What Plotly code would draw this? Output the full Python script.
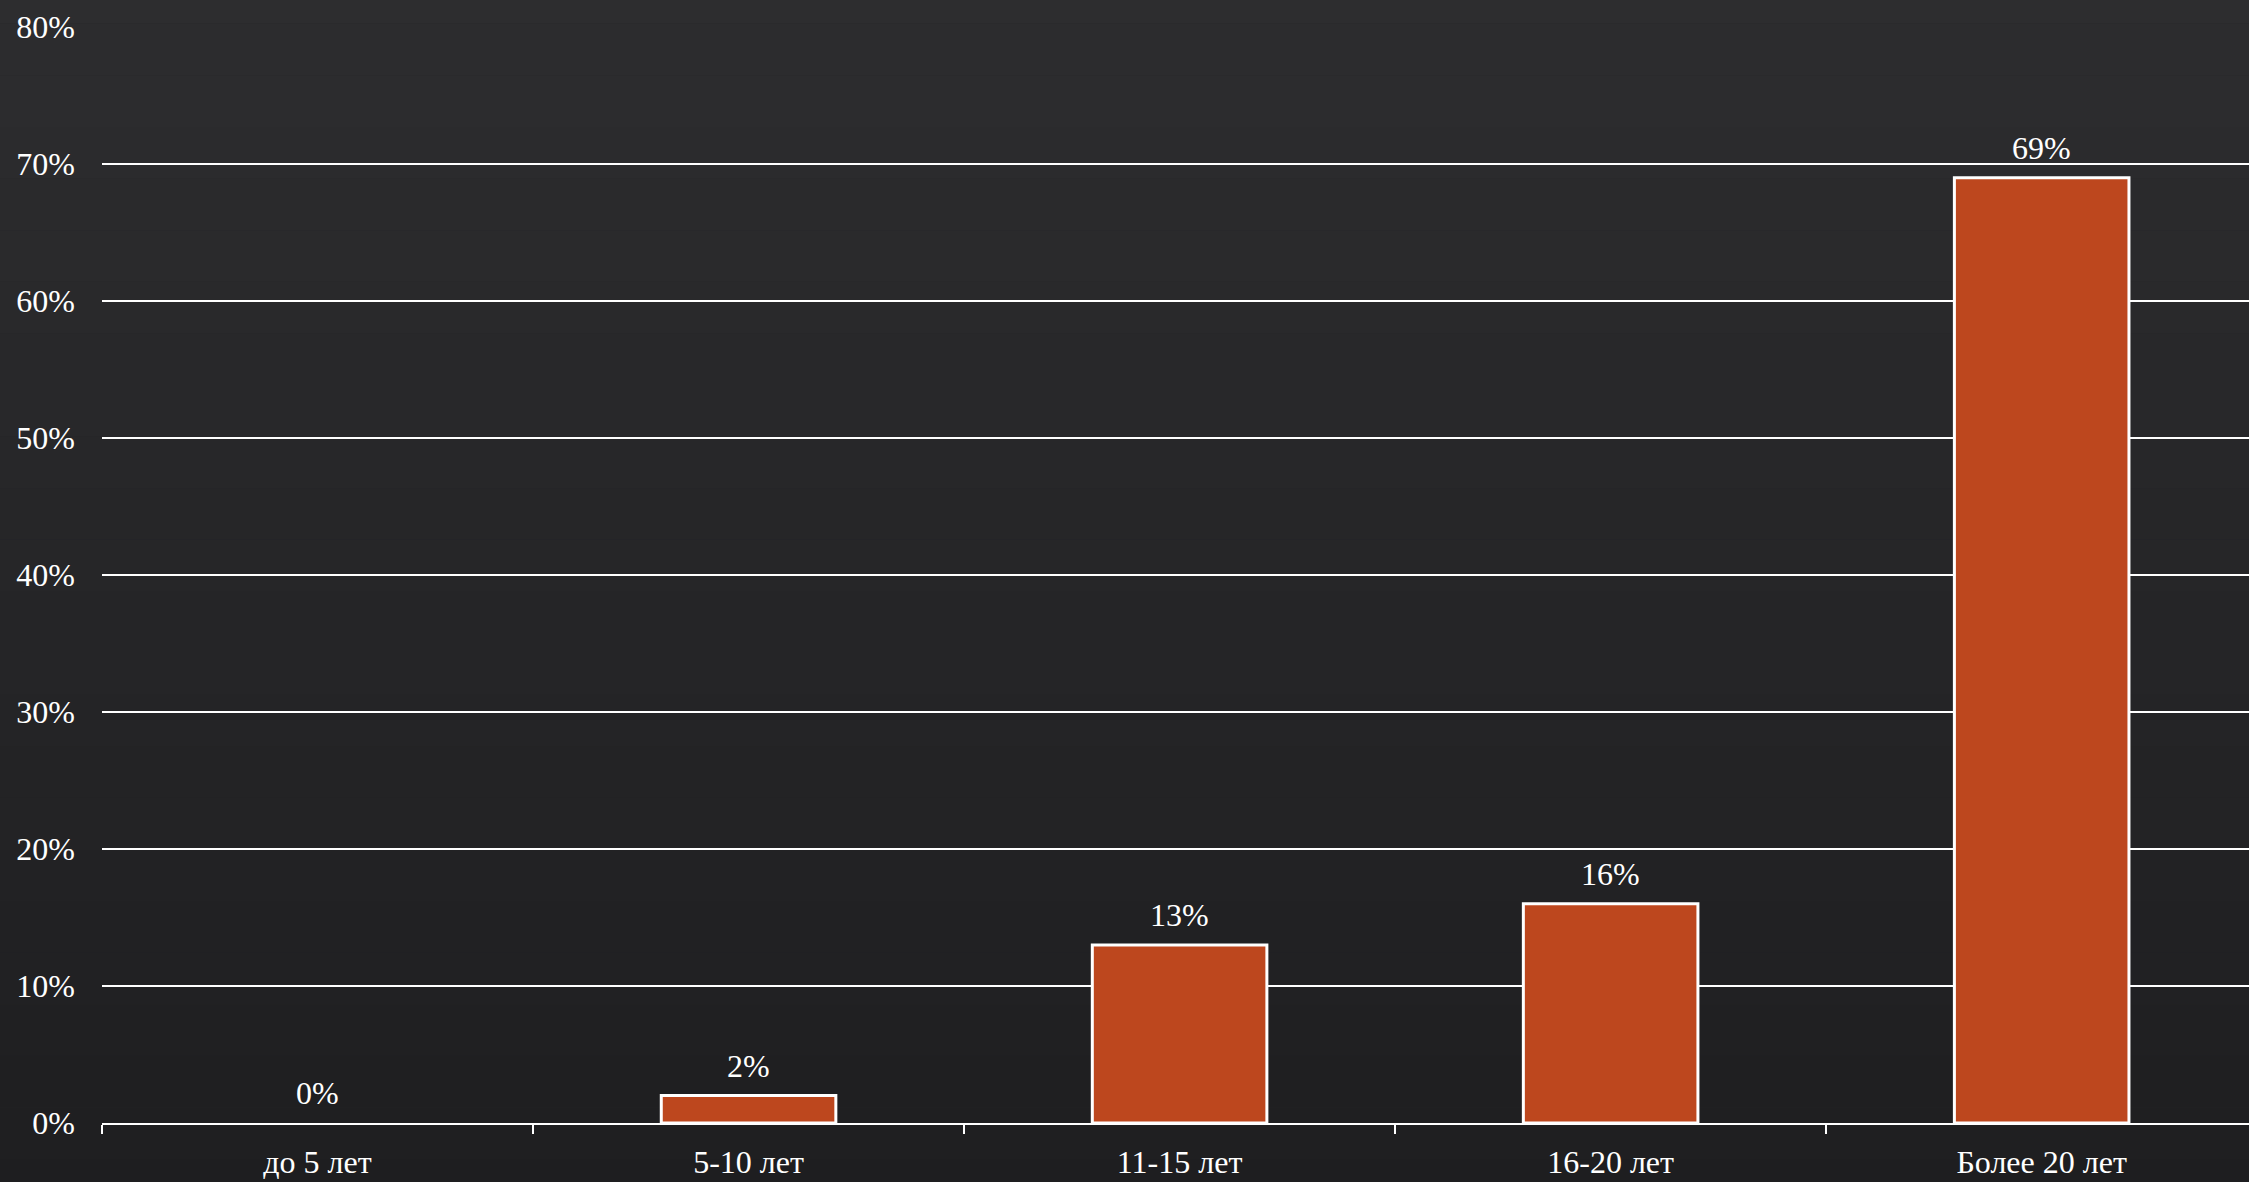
import plotly.graph_objects as go

categories = ["до 5 лет", "5-10 лет", "11-15 лет", "16-20 лет", "Более 20 лет"]
values = [0, 2, 13, 16, 69]
y_ticks = [0, 10, 20, 30, 40, 50, 60, 70, 80]
y_tick_labels = [f"{v}%" for v in y_ticks]
bar_labels = [f"{v}%" for v in values]

W, H = 2249, 1182
FONT = "Liberation Serif, Times New Roman, serif"

fig = go.Figure()
fig.add_trace(go.Bar(
    x=categories, y=values,
    marker=dict(color="#BD471E",
                line=dict(color="#FFFFFF", width=[0 if v == 0 else 3 for v in values])),
    width=0.405,
    hoverinfo="skip",
))

for c, v, t in zip(categories, values, bar_labels):
    fig.add_annotation(x=c, y=v, text=t, showarrow=False, yanchor="bottom",
                       yshift=10, font=dict(family=FONT, size=32, color="#FFFFFF"))

# subtle vertical background gradient
shapes = []
n = 24
top = (45, 45, 47)
bot = (30, 30, 32)
y0p, y1p = -0.08, 1.05
for i in range(n):
    t = i / (n - 1)
    c = tuple(round(top[k] + (bot[k] - top[k]) * t) for k in range(3))
    ya = y1p - (y1p - y0p) * i / n
    yb = y1p - (y1p - y0p) * (i + 1) / n
    shapes.append(dict(type="rect", xref="paper", yref="paper", x0=-0.08, x1=1.02,
                       y0=yb, y1=ya, fillcolor="rgb(%d,%d,%d)" % c, line=dict(width=0),
                       layer="below"))

fig.update_layout(
    width=W, height=H,
    margin=dict(l=102, r=0, t=27, b=59, autoexpand=False),
    paper_bgcolor="#262628", plot_bgcolor="rgba(0,0,0,0)",
    showlegend=False,
    shapes=shapes,
    font=dict(family=FONT, color="#FFFFFF", size=32),
    xaxis=dict(
        range=[-0.5, 4.481],
        showline=True, linecolor="#FFFFFF", linewidth=2,
        ticks="outside", tickson="boundaries", ticklen=9, tickwidth=2, tickcolor="#FFFFFF",
        showgrid=False, automargin=False,
        ticklabelstandoff=10,
        tickfont=dict(family=FONT, size=32, color="#FFFFFF"),
    ),
    yaxis=dict(
        range=[0, 80],
        tickvals=y_ticks, ticktext=y_tick_labels,
        showgrid=True, gridcolor="#FFFFFF", gridwidth=2,
        zeroline=False, showline=False, automargin=False,
        ticks="", ticklen=0,
        ticklabelstandoff=26,
        tickfont=dict(family=FONT, size=32, color="#FFFFFF"),
    ),
    bargap=0.595,
)

fig.write_html("out.html", config={"displayModeBar": False},
               post_script="document.body.style.margin='0';document.body.style.overflow='hidden';")
